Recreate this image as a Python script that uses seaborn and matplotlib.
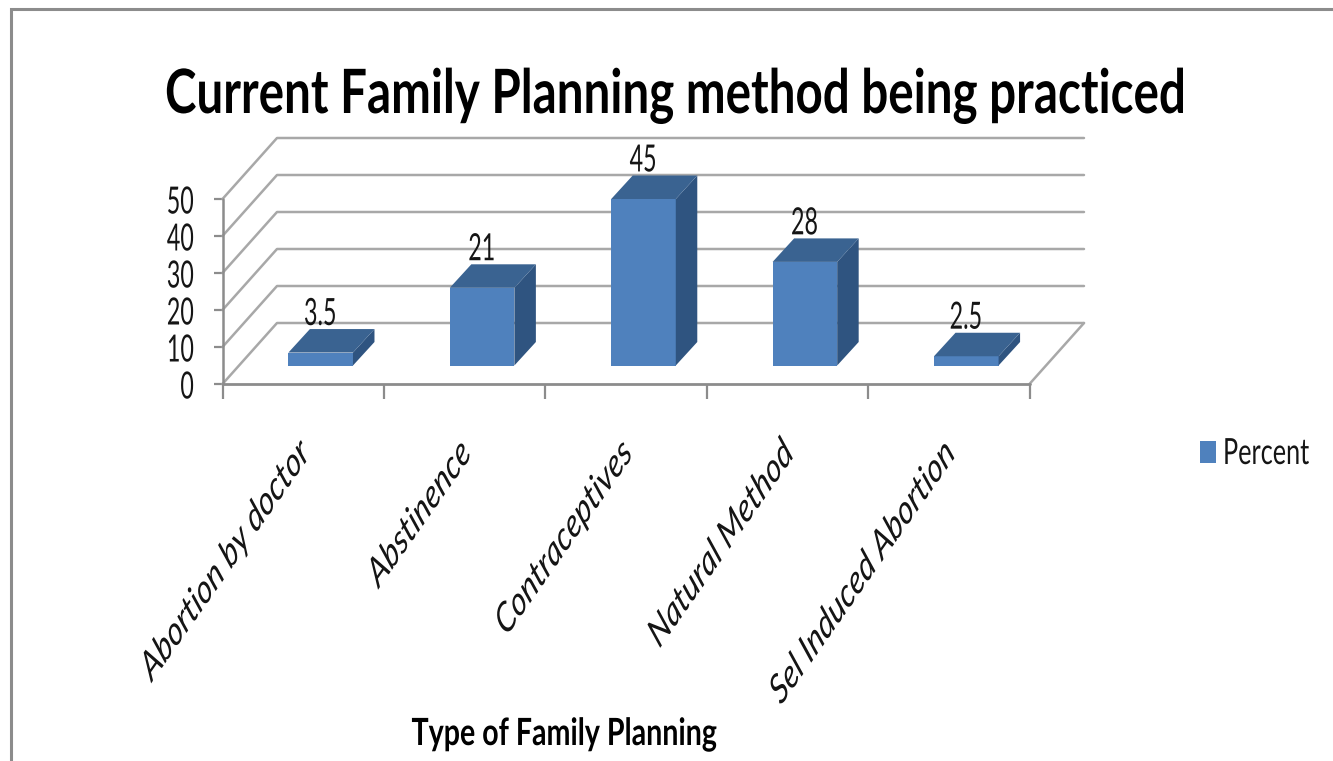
import matplotlib
matplotlib.use("Agg")
import matplotlib.pyplot as plt
from matplotlib.patches import Polygon, Rectangle
from matplotlib.patheffects import AbstractPathEffect
from matplotlib.transforms import Affine2D
import seaborn as sns
import pandas as pd

categories = ["Abortion by doctor", "Abstinence", "Contraceptives", "Natural Method", "Sel Induced Abortion"]
percent = [3.5, 21, 45, 28, 2.5]
value_labels = ["3.5", "21", "45", "28", "2.5"]
y_ticks = [0, 10, 20, 30, 40, 50]
title = "Current Family Planning method being practiced"
x_title = "Type of Family Planning"
series_name = "Percent"

W, H = 1333, 761
sns.set_theme(style="white")
plt.rcParams["font.family"] = ["Lato", "DejaVu Sans"]

fig = plt.figure(figsize=(W / 100, H / 100), dpi=100, facecolor="white")


class Condense(AbstractPathEffect):
    """Squeeze a real text artist horizontally about one x position (in pixels)."""

    def __init__(self, cx, sx):
        super().__init__()
        self.cx, self.sx = cx, sx

    def draw_path(self, renderer, gc, tpath, affine, rgbFace=None):
        squeeze = Affine2D().translate(-self.cx, 0).scale(self.sx, 1).translate(self.cx, 0)
        renderer.draw_path(gc, tpath, affine + squeeze, rgbFace)


def condense(txt, cx, sx):
    txt.set_path_effects([Condense(cx, sx)])


def natural_width(txt):
    return txt.get_window_extent(fig.canvas.get_renderer()).width


def axes_px(x0, y0, x1, y1):
    return fig.add_axes([x0 / W, 1 - y1 / H, (x1 - x0) / W, (y1 - y0) / H])


TEXT = "#151515"
AXIS = "#8c8c8c"
GRID = "#a8a8a8"
X0, X1, Y50, Y0 = 222.5, 1029.5, 199, 384
UX, UY = (X1 - X0) / 5, (Y0 - Y50) / 50

# frame of the chart area
bg = fig.add_axes([0, 0, 1, 1]); bg.set_xlim(0, W); bg.set_ylim(H, 0); bg.axis("off")
bg.plot([10.5, 10.5, 1333], [761, 9, 9], color="#8c8c8c", lw=2.2, solid_joinstyle="miter")

# main plane
ax = axes_px(X0, Y50, X1, Y0)
ax.patch.set_alpha(0)
ax.set_xlim(-0.5, 4.5); ax.set_ylim(0, 50)
for s in ax.spines.values():
    s.set_visible(False)
ddx, ddy = 54.5 / UX, 61 / UY
for t in y_ticks:
    ax.plot([-0.5, -0.5 + ddx, 4.5 + ddx], [t, t + ddy, t + ddy], color=GRID, lw=1.8, clip_on=False, zorder=1)
ax.plot([4.5, 4.5 + ddx], [0, ddy], color=GRID, lw=1.8, clip_on=False, zorder=1)
ax.plot([-0.5, 4.5], [0, 0], color=AXIS, lw=2.0, clip_on=False, zorder=2)
ax.plot([-0.5, -0.5], [0, 50], color=AXIS, lw=1.8, clip_on=False, zorder=2)
ax.set_xticks([i - 0.5 for i in range(6)]); ax.set_xticklabels([])
ax.set_yticks(y_ticks)
ax.set_yticklabels([str(t) for t in y_ticks], fontsize=27, color=TEXT)
ax.tick_params(axis="y", length=6.5, width=1.6, color=AXIS, pad=14, left=True)
ax.tick_params(axis="x", length=10.5, width=1.6, color=AXIS, bottom=True)
for lab in ax.get_yticklabels():
    condense(lab, X0 - 29, 0.62)

# bars, in a plane set back from the front
shift_x, shift_y = 17.5, 18.5
bx = axes_px(X0 + shift_x, Y50 - shift_y, X1 + shift_x, Y0 - shift_y)
bx.patch.set_alpha(0); bx.axis("off")
df = pd.DataFrame({"cat": categories, "val": percent})
sns.barplot(df, x="cat", y="val", ax=bx, color="#4F81BD", saturation=1, width=0.4, linewidth=0)
bx.set_xlim(-0.5, 4.5); bx.set_ylim(0, 50)
hw = 0.2
bdx, bdy = 21.5 / UX, 23.5 / UY
for i, v in enumerate(percent):
    bx.add_patch(Polygon([(i + hw, 0), (i + hw + bdx, bdy), (i + hw + bdx, v + bdy), (i + hw, v)],
                         fc="#2F5480", ec="none", clip_on=False, zorder=3))
    bx.add_patch(Polygon([(i - hw, v), (i - hw + bdx, v + bdy), (i + hw + bdx, v + bdy), (i + hw, v)],
                         fc="#3A6391", ec="none", clip_on=False, zorder=3))
    t = bx.text(i, v + bdy + 1.1, value_labels[i], ha="center", va="baseline", fontsize=27,
                color=TEXT, clip_on=False, zorder=4)
    condense(t, X0 + shift_x + (i + 0.5) * UX - 1, 0.62)

# category labels
for i, c in enumerate(categories):
    a = ax.annotate(c, xy=(i, 0), xycoords="data", xytext=(2, -63), textcoords="offset pixels",
                    rotation=45, rotation_mode="anchor", ha="right", va="center",
                    fontsize=29.5, style="italic", color=TEXT, annotation_clip=False)
    condense(a, X0 + (i + 0.5) * UX + 2, 0.70)

ttl = fig.text(675 / W, 1 - 113 / H, title, ha="center", va="baseline", fontsize=44,
               fontweight="bold", color="black")
condense(ttl, 675, 1020 / natural_width(ttl))
xt = fig.text(564 / W, 1 - 745 / H, x_title, ha="center", va="baseline", fontsize=27,
              fontweight="bold", color="black")
condense(xt, 564, 305 / natural_width(xt))

# legend
bg.add_patch(Rectangle((1200, 441), 15.5, 22, fc="#4F81BD", ec="none"))
lg = bg.text(1309, 464, series_name, ha="right", va="baseline", fontsize=26, color=TEXT)
condense(lg, 1309, 86 / natural_width(lg))

fig.savefig("out.png", dpi=100)
